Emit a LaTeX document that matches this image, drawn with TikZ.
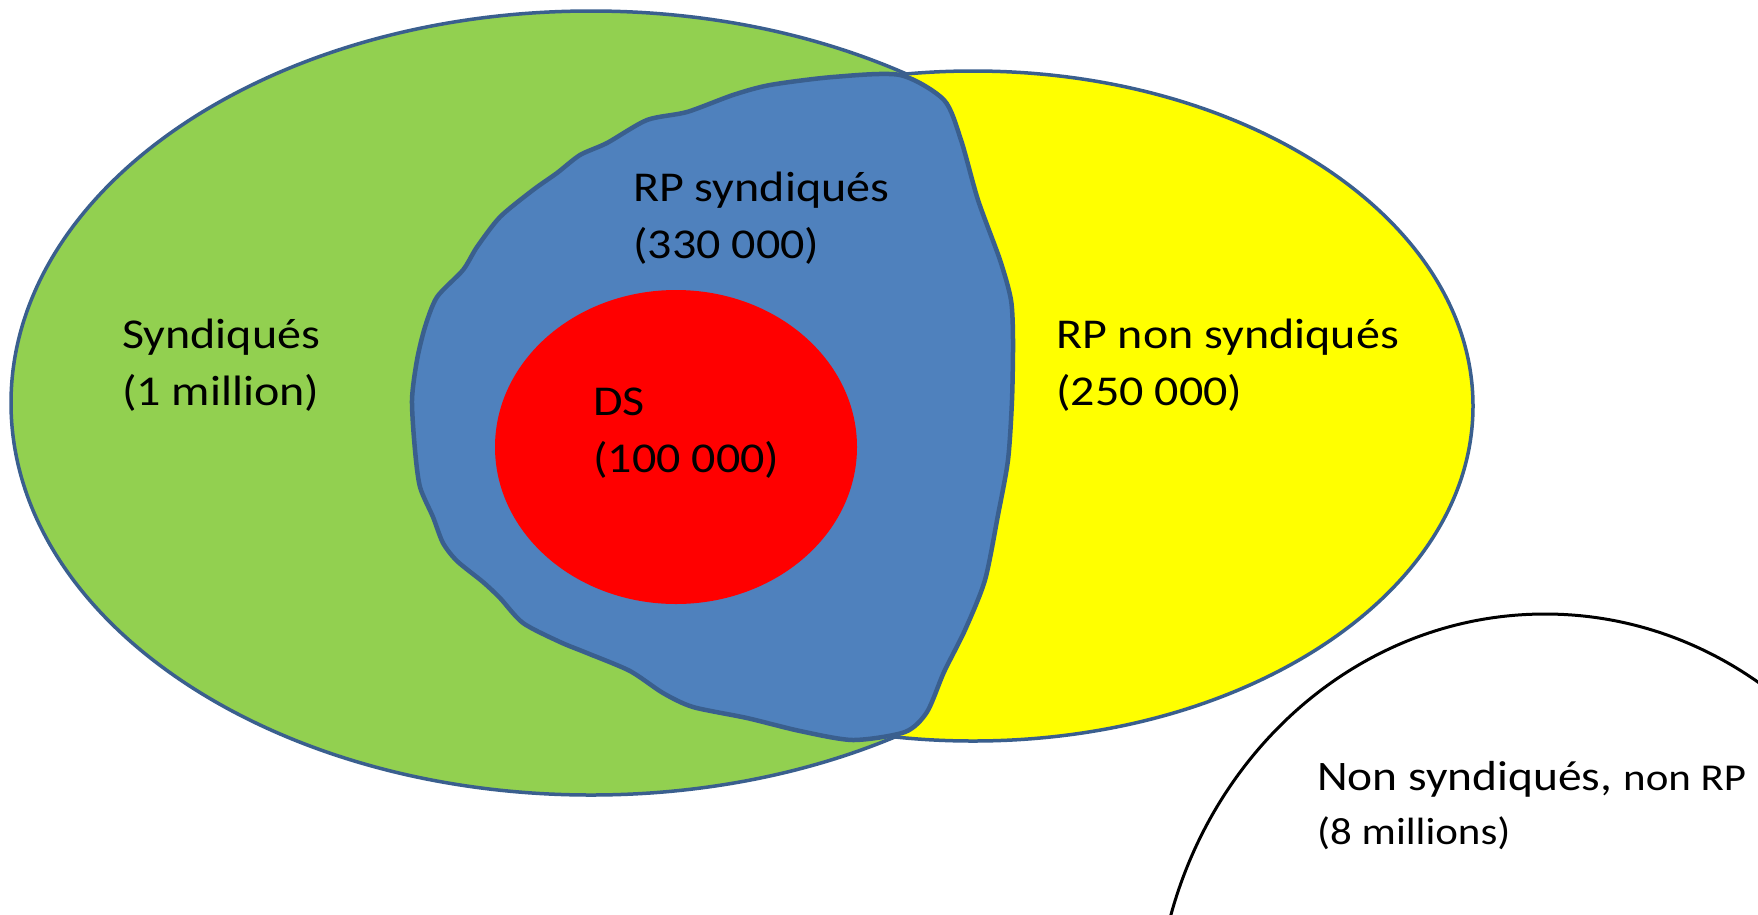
\documentclass[tikz,border=0pt]{standalone}
\usepackage{fontspec}
\setmainfont{Carlito}[FakeStretch=1.13]
\definecolor{vgreen}{HTML}{92D050}
\definecolor{vyellow}{HTML}{FFFF00}
\definecolor{vblue}{HTML}{4F81BD}
\definecolor{vred}{HTML}{FF0000}
\definecolor{vline}{HTML}{3A5F8E}
\begin{document}
\begin{tikzpicture}[x=1pt,y=-1pt,
  setline/.style={draw=vline,line width=3.5pt},
  lab/.style={anchor=base west,inner sep=0pt,text=black,font=\fontsize{42.5}{50}\selectfont},
  smalllab/.style={anchor=base west,inner sep=0pt,text=black,font=\fontsize{38}{45}\selectfont}]
\useasboundingbox (0,0) rectangle (1758,914);
\clip (0,0) rectangle (1758,914);
\fill[white] (0,0) rectangle (1758,914);
% Syndiques
\filldraw[setline,fill=vgreen] (591,403) ellipse [x radius=580,y radius=392];
% RP non syndiques
\filldraw[setline,fill=vyellow] (973,406) ellipse [x radius=500,y radius=335];
% RP syndiques (irregular blob)
\filldraw[draw=vline,line width=4.5pt,fill=vblue,line join=round]
  plot[smooth cycle,tension=0.45] coordinates {
  (900,75) (944,100) (961,140) (978,200) (1000,260) (1011,300) (1013,340)
  (1012,400) (1008,460) (998,515) (985,580) (965,630) (944,672) (927,712)
  (905,732) (853,740) (800,731) (747,718) (693,707) (663,693) (630,671)
  (587,653) (560,642) (523,623) (500,598) (483,582) (457,561) (443,543)
  (433,517) (420,487) (415,450) (412,400) (417,360) (425,327) (437,297)
  (463,270) (477,247) (500,217) (533,190) (557,173) (580,155) (607,143)
  (647,120) (687,112) (733,95) (770,85) (833,77)};
% DS
\fill[vred] (676,447) ellipse [x radius=181,y radius=157];
% Non syndiques, non RP
\draw[black,line width=3pt] (1545,1034) ellipse [x radius=390,y radius=420];
% labels
\node[lab] (synd1) at (122,348) {Syndiqués};
\node[lab] (synd2) at (122,405) {(1 million)};
\node[lab] (rps1) at (633,201) {RP syndiqués};
\node[lab] (rps2) at (633,258) {(330 000)};
\node[lab] (ds1) at (593,415) {DS};
\node[lab] (ds2) at (593,472) {(100 000)};
\node[lab] (rpns1) at (1056,348) {RP non syndiqués};
\node[lab] (rpns2) at (1056,405) {(250 000)};
\node[lab] (nsn1) at (1317,790) {{\fontsize{42}{50}\selectfont Non syndiqués,} {\fontsize{38}{45}\selectfont non RP}};
\node[smalllab] (nsn2) at (1317,844) {(8 millions)};
\end{tikzpicture}
\end{document}
